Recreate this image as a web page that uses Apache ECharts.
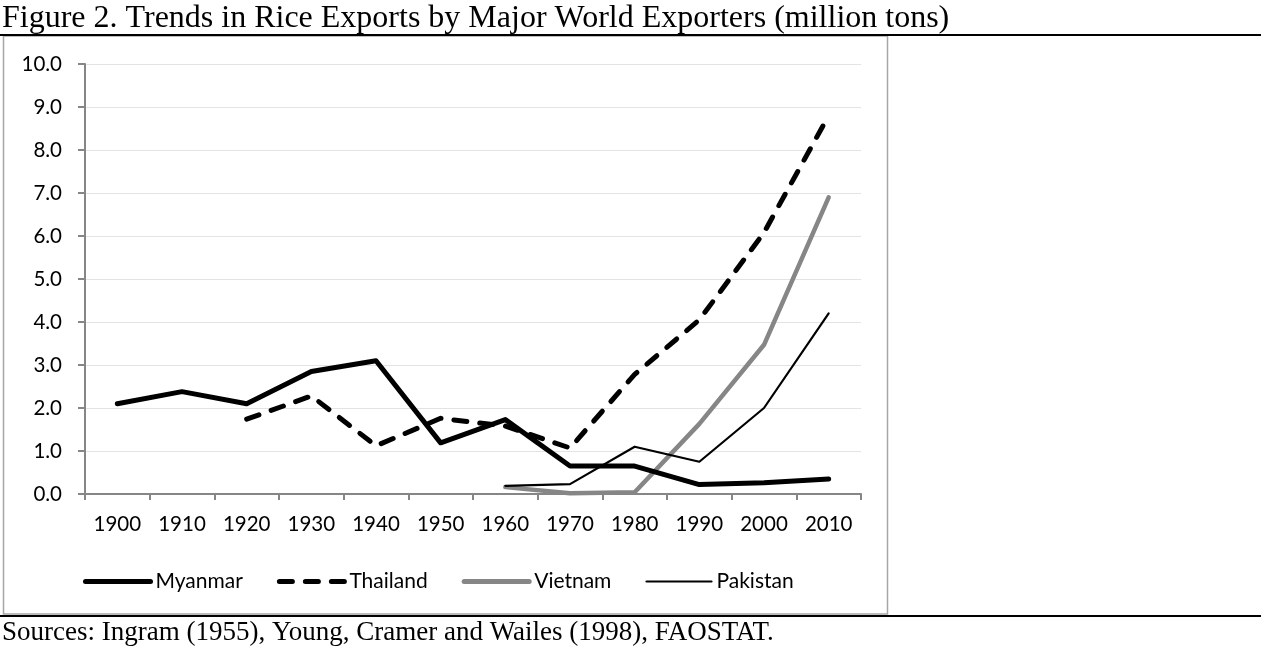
<!DOCTYPE html>
<html>
<head>
<meta charset="utf-8">
<script src="https://cdn.jsdelivr.net/npm/echarts@6/dist/echarts.min.js"></script>
<style>
html,body{margin:0;padding:0;background:#fff;}
#c{width:1261px;height:647px;}
</style>
</head>
<body>
<div id="c"></div>
<script>
const years = ['1900','1910','1920','1930','1940','1950','1960','1970','1980','1990','2000','2010'];
const myanmar  = [2.10, 2.38, 2.10, 2.85, 3.10, 1.19, 1.73, 0.65, 0.65, 0.22, 0.26, 0.35];
const thailand = [null, null, 1.74, 2.28, 1.12, 1.76, 1.58, 1.07, 2.78, 4.05, 6.08, 8.80];
const vietnam  = [null, null, null, null, null, null, 0.16, 0.02, 0.04, 1.63, 3.47, 6.90];
const pakistan = [null, null, null, null, null, null, 0.19, 0.23, 1.10, 0.75, 2.00, 4.20];
const titleText = 'Figure 2. Trends in Rice Exports by Major World Exporters (million tons)';
const sourceText = 'Sources: Ingram (1955), Young, Cramer and Wailes (1998), FAOSTAT.';

const FONT = 'Lato';
const FS = 20.5;
const chart = echarts.init(document.getElementById('c'), null, {renderer:'canvas'});
chart.setOption({
  animation:false,
  backgroundColor:'#fff',
  title:[
    {text:titleText,left:2,top:3,padding:0,textStyle:{fontFamily:'Liberation Serif',fontSize:32,fontWeight:'normal',color:'#000'}},
    {text:sourceText,left:2,top:619,padding:0,textStyle:{fontFamily:'Liberation Serif',fontSize:27,fontWeight:'normal',color:'#000'}}
  ],
  graphic:[
    {type:'rect',shape:{x:3.5,y:36,width:884,height:578},style:{fill:'none',stroke:'#a6a6a6',lineWidth:1.5},z:0},
    {type:'line',shape:{x1:0,y1:35,x2:1261,y2:35},style:{stroke:'#000',lineWidth:2.2},z:5},
    {type:'line',shape:{x1:0,y1:616,x2:1261,y2:616},style:{stroke:'#000',lineWidth:2.2},z:5}
  ],
  grid:{left:85,right:400,top:64,bottom:153},
  legend:{
    left:83, top:571, padding:0, itemWidth:65, itemHeight:14, itemGap:34,
    itemStyle:{opacity:0},
    textStyle:{fontFamily:FONT,fontSize:21,color:'#000'},
    data:[
      {name:'Myanmar',lineStyle:{width:5},itemStyle:{opacity:0}},
      {name:'Thailand',lineStyle:{width:5},itemStyle:{opacity:0}},
      {name:'Vietnam',lineStyle:{width:5},itemStyle:{opacity:0}},
      {name:'Pakistan',lineStyle:{width:2.2},itemStyle:{opacity:0}}
    ]
  },
  xAxis:{
    type:'category', data:years, boundaryGap:true,
    axisLine:{lineStyle:{color:'#868686',width:2}},
    axisTick:{show:true,length:6,alignWithLabel:false,lineStyle:{color:'#868686',width:2}},
    axisLabel:{fontFamily:FONT,fontSize:FS,color:'#000',margin:20,interval:0},
    splitLine:{show:false}
  },
  yAxis:{
    type:'value', min:0, max:10, interval:1,
    axisLine:{show:true,lineStyle:{color:'#868686',width:2}},
    axisTick:{show:true,length:7,lineStyle:{color:'#868686',width:2}},
    axisLabel:{fontFamily:FONT,fontSize:FS,color:'#000',margin:23,formatter:v=>v.toFixed(1)},
    splitLine:{show:true,lineStyle:{color:'#e3e3e3',width:1}}
  },
  series:[
    {name:'Myanmar',type:'line',data:myanmar,symbol:'none',connectNulls:false,
     lineStyle:{color:'#000',width:5,join:'round',cap:'round'},itemStyle:{color:'#000'},z:4},
    {name:'Thailand',type:'line',data:thailand,symbol:'none',
     lineStyle:{color:'#000',width:5,type:[13,13],join:'round',cap:'round'},itemStyle:{color:'#000'},z:3},
    {name:'Vietnam',type:'line',data:vietnam,symbol:'none',
     lineStyle:{color:'#868686',width:4.5,join:'round',cap:'round'},itemStyle:{color:'#868686'},z:2},
    {name:'Pakistan',type:'line',data:pakistan,symbol:'none',
     lineStyle:{color:'#000',width:2.2,join:'round',cap:'round'},itemStyle:{color:'#000'},z:5}
  ]
});
</script>
</body>
</html>
